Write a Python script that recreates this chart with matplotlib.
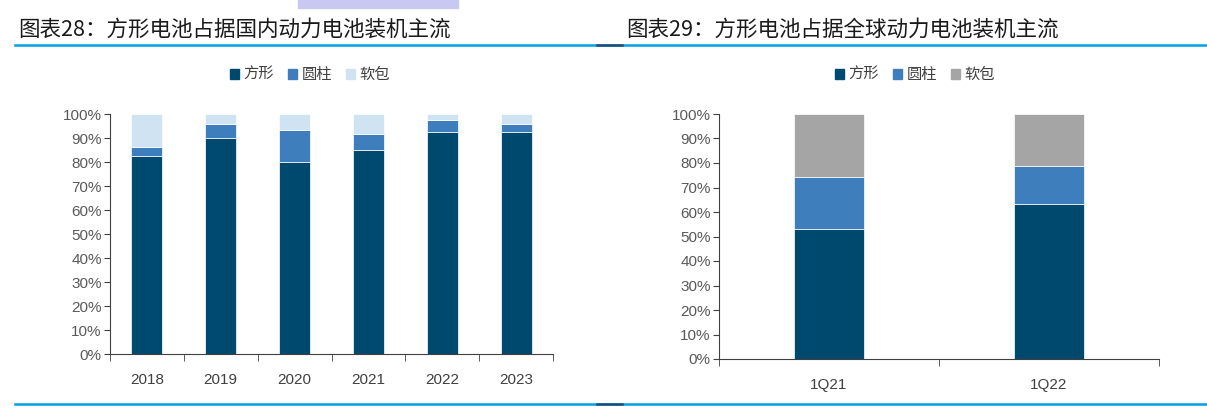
import matplotlib
matplotlib.use("Agg")
import matplotlib.pyplot as plt
import numpy as np
from matplotlib.patches import Rectangle
from matplotlib.lines import Line2D

plt.rcParams['font.family'] = ['Liberation Sans', 'Noto Sans CJK SC', 'DejaVu Sans']

# DATA
years = ['2018', '2019', '2020', '2021', '2022', '2023']
cn_prismatic = [82.3, 89.8, 80.2, 85.1, 92.7, 92.7]
cn_cylinder = [4.0, 6.2, 13.2, 6.7, 4.7, 3.3]
cn_pouch = [13.7, 4.0, 6.6, 8.2, 2.6, 4.0]

quarters = ['1Q21', '1Q22']
gl_prismatic = [52.9, 63.4]
gl_cylinder = [21.5, 15.5]
gl_pouch = [25.6, 21.1]

series_names = ['方形', '圆柱', '软包']
left_colors = ['#00496E', '#3F7EBD', '#D0E3F3']
right_colors = ['#00496E', '#3F7EBD', '#A5A5A5']

W, H = 1207, 409
fig = plt.figure(figsize=(W / 100, H / 100), dpi=100)


def px_axes(x0, x1, ytop, ybot):
    return fig.add_axes([x0 / W, 1 - ybot / H, (x1 - x0) / W, (ybot - ytop) / H])


def stacked(ax, cats, series, colors, width):
    x = np.arange(len(cats))
    bottom = np.zeros(len(cats))
    for vals, c in zip(series, colors):
        ax.bar(x, vals, width, bottom=bottom, color=c, edgecolor='white', linewidth=0.5)
        bottom += np.array(vals)
    ax.set_xlim(-0.5, len(cats) - 0.5)
    ax.set_ylim(0, 100)
    ax.set_yticks(np.arange(0, 101, 10))
    ax.set_yticklabels([f'{v}%' for v in range(0, 101, 10)])
    ax.set_xticks(x)
    ax.set_xticklabels(cats)
    ax.set_xticks(np.arange(-0.5, len(cats), 1), minor=True)
    ax.tick_params(axis='x', which='major', length=0, pad=14, labelsize=11, labelcolor='#404040')
    ax.tick_params(axis='x', which='minor', length=5, direction='out', color='#404040')
    ax.tick_params(axis='y', length=4, direction='out', labelsize=11, labelcolor='#595959', color='#404040', pad=2)
    for s in ['top', 'right']:
        ax.spines[s].set_visible(False)
    for s in ['left', 'bottom']:
        ax.spines[s].set_color('#404040')
    handles = [Rectangle((0, 0), 1, 1, color=c) for c in colors]
    return handles


ax1 = px_axes(110, 553, 114, 354)
h1 = stacked(ax1, years, [cn_prismatic, cn_cylinder, cn_pouch], left_colors, 0.42)
ax1.legend(h1, series_names, loc='center', bbox_to_anchor=(310 / W, 1 - 75 / H),
           bbox_transform=fig.transFigure, ncol=3, frameon=False, fontsize=11,
           handlelength=0.6, handleheight=0.6, handletextpad=0.3, columnspacing=0.9,
           labelcolor='#404040')

ax2 = px_axes(719, 1159, 114, 359)
h2 = stacked(ax2, quarters, [gl_prismatic, gl_cylinder, gl_pouch], right_colors, 0.32)
ax2.legend(h2, series_names, loc='center', bbox_to_anchor=(915 / W, 1 - 75 / H),
           bbox_transform=fig.transFigure, ncol=3, frameon=False, fontsize=11,
           handlelength=0.6, handleheight=0.6, handletextpad=0.3, columnspacing=0.9,
           labelcolor='#404040')

# titles and rules
tfont = dict(family=['Noto Sans CJK SC', 'DejaVu Sans'], fontsize=15.5, style='italic',
             weight='medium', color='#1a1a1a', va='center', ha='left')
fig.text(18 / W, 1 - 30 / H, '图表28：方形电池占据国内动力电池装机主流', **tfont)
fig.text(626 / W, 1 - 30 / H, '图表29：方形电池占据全球动力电池装机主流', **tfont)

for y in [45, 404]:
    fig.add_artist(Line2D([15 / W, 1], [1 - y / H] * 2, color='#00A0E0', lw=1.8))
    fig.add_artist(Line2D([597 / W, 622 / W], [1 - y / H] * 2, color='#1F4E79', lw=1.8))

fig.add_artist(Rectangle((298 / W, 1 - 8 / H), 160 / W, 8 / H, color='#C8C8F2',
                         transform=fig.transFigure))

fig.savefig('out.png', dpi=100)
